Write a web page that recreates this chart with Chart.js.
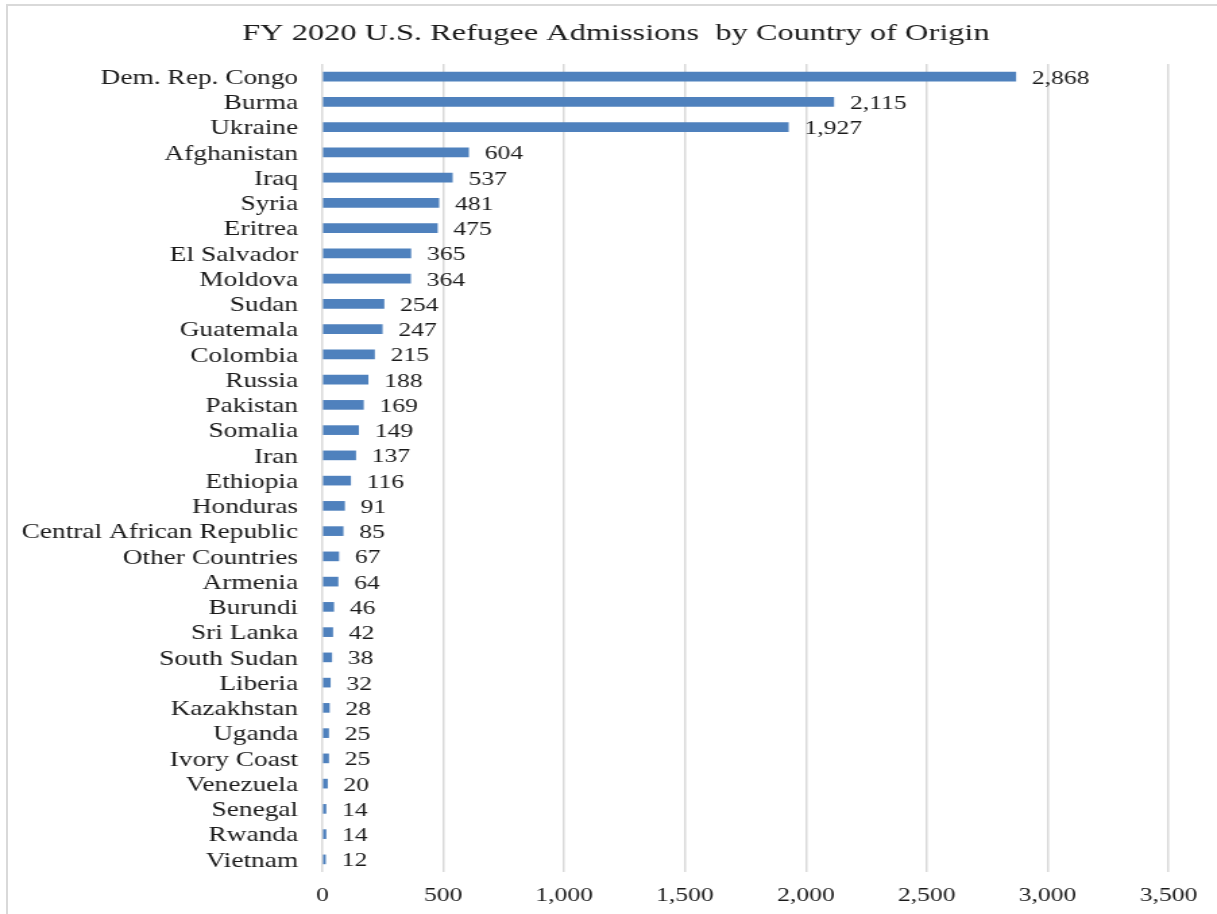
<!DOCTYPE html>
<html>
<head>
<meta charset="utf-8">
<script src="https://cdn.jsdelivr.net/npm/chart.js@4/dist/chart.umd.min.js"></script>
<style>
  html, body { margin: 0; padding: 0; background: #fff; }
  body { width: 1217px; height: 914px; position: relative; overflow: hidden; }
  #frame { position: absolute; left: 6px; top: 4px; right: -10px; bottom: -10px;
           border-top: 2px solid #d9d9d9; border-left: 2px solid #d9d9d9; }
  #wrap { position: absolute; left: 0; top: 0; width: 902px; height: 914px;
          transform: scaleX(1.3492); transform-origin: 0 0; }
  canvas { display: block; }
</style>
</head>
<body>
<div id="frame"></div>
<div id="wrap"><canvas id="c" width="902" height="914" style="width:902px;height:914px"></canvas></div>
<script>
const chartTitle = "FY 2020 U.S. Refugee Admissions  by Country of Origin";
const countries = ["Dem. Rep. Congo", "Burma", "Ukraine", "Afghanistan", "Iraq", "Syria", "Eritrea",
  "El Salvador", "Moldova", "Sudan", "Guatemala", "Colombia", "Russia", "Pakistan", "Somalia", "Iran",
  "Ethiopia", "Honduras", "Central African Republic", "Other Countries", "Armenia", "Burundi",
  "Sri Lanka", "South Sudan", "Liberia", "Kazakhstan", "Uganda", "Ivory Coast", "Venezuela",
  "Senegal", "Rwanda", "Vietnam"];
const admissions = [2868, 2115, 1927, 604, 537, 481, 475, 365, 364, 254, 247, 215, 188, 169, 149, 137,
  116, 91, 85, 67, 64, 46, 42, 38, 32, 28, 25, 25, 20, 14, 14, 12];
const xTicks = [0, 500, 1000, 1500, 2000, 2500, 3000, 3500];

const serif = "'Liberation Serif', 'Times New Roman', serif";
const fmt = v => Number(v).toLocaleString('en-US');

const valueLabels = {
  id: 'valueLabels',
  afterDatasetsDraw(chart) {
    const ctx = chart.ctx;
    const meta = chart.getDatasetMeta(0);
    ctx.save();
    ctx.font = "19px " + serif;
    ctx.fillStyle = "#1a1a1a";
    ctx.textAlign = "left";
    ctx.textBaseline = "middle";
    meta.data.forEach((bar, i) => {
      ctx.fillText(fmt(chart.data.datasets[0].data[i]), bar.x + 12, bar.y + 2);
    });
    ctx.restore();
  }
};

const titlePlugin = {
  id: 'titleText',
  afterDraw(chart) {
    const ctx = chart.ctx;
    ctx.save();
    ctx.font = "24px " + serif;
    ctx.fillStyle = "#1a1a1a";
    ctx.textAlign = "center";
    ctx.textBaseline = "middle";
    ctx.fillText(chartTitle, 456.5, 33.5);
    ctx.restore();
  }
};

new Chart(document.getElementById('c'), {
  type: 'bar',
  data: {
    labels: countries,
    datasets: [{
      data: admissions,
      backgroundColor: '#4f81bd',
      borderWidth: 0,
      barThickness: 9
    }]
  },
  options: {
    indexAxis: 'y',
    responsive: false,
    animation: false,
    devicePixelRatio: 1,
    layout: { padding: { left: 0, right: 36, top: 64, bottom: 0 } },
    plugins: {
      legend: { display: false },
      tooltip: { enabled: false },
      title: { display: false }
    },
    scales: {
      x: {
        min: 0, max: 3500,
        afterBuildTicks: s => { s.ticks = xTicks.map(v => ({ value: v })); },
        afterFit: s => { s.height = 42; },
        grid: { color: '#d9d9d9', lineWidth: 1.5, drawTicks: false },
        border: { display: false },
        ticks: { color: '#1a1a1a', font: { family: serif, size: 19 }, padding: 13,
                 callback: v => fmt(v), maxRotation: 0 }
      },
      y: {
        afterFit: s => { s.width = 239; },
        grid: { display: false, drawTicks: false },
        border: { display: false },
        ticks: { color: '#1a1a1a', font: { family: serif, size: 20.3 }, padding: 18,
                 autoSkip: false, labelOffset: 2 }
      }
    }
  },
  plugins: [valueLabels, titlePlugin]
});
</script>
</body>
</html>
